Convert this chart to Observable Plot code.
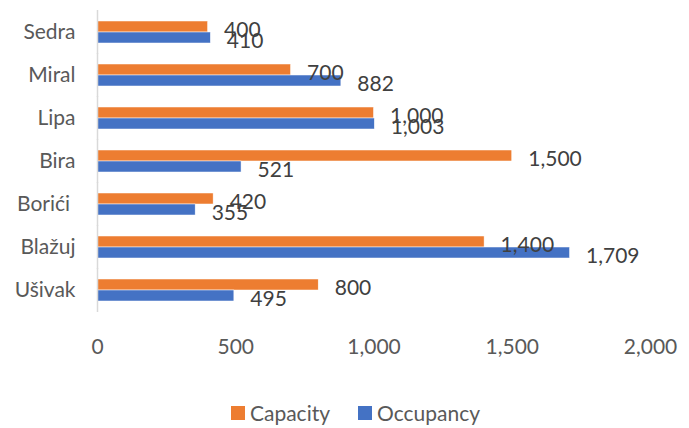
<!DOCTYPE html>
<html>
<head>
<meta charset="utf-8">
<script src="https://cdn.jsdelivr.net/npm/d3@7"></script>
<script src="https://cdn.jsdelivr.net/npm/@observablehq/plot@0.6"></script>
<style>
  body { margin: 0; background: #fff; font-family: Lato, "Open Sans", sans-serif; }
  #legend { position: absolute; top: 400px; left: 0; width: 689px; display: flex; justify-content: center; gap: 28px; font-size: 21px; color: #595959; padding-left: 22px; box-sizing: border-box; }
  #legend span.item { display: flex; align-items: center; gap: 5px; }
  #legend span.sw { width: 14px; height: 14px; display: inline-block; }
</style>
</head>
<body>
<div id="chart"></div>
<script>
const categories = ["Sedra", "Miral", "Lipa", "Bira", "Bori\u0107i\u00a0", "Bla\u017euj", "U\u0161ivak"];
const seriesNames = ["Capacity", "Occupancy"];
const capacity = [400, 700, 1000, 1500, 420, 1400, 800];
const occupancy = [410, 882, 1003, 521, 355, 1709, 495];
const xTicks = [0, 500, 1000, 1500, 2000];
const colors = ["#ED7D31", "#4472C4"];

const rows = [];
categories.forEach((c, i) => {
  rows.push({category: c, series: seriesNames[0], value: capacity[i]});
  rows.push({category: c, series: seriesNames[1], value: occupancy[i]});
});

const fmt = d3.format(",");

const chart = Plot.plot({
  width: 689,
  height: 384,
  marginLeft: 97,
  marginRight: 39,
  marginTop: 8,
  marginBottom: 70,
  style: {fontFamily: "Lato, 'Open Sans', sans-serif", fontSize: "21px", color: "#595959", background: "#fff"},
  facet: {data: rows, y: "category"},
  fy: {domain: categories, paddingInner: 0.5, paddingOuter: 0.25, label: null, axis: "left", tickSize: 0, tickPadding: 22},
  y: {domain: seriesNames, axis: null, paddingInner: 0, paddingOuter: 0},
  x: {domain: [0, 2000], ticks: xTicks, tickFormat: fmt, tickSize: 0, tickPadding: 38, label: null},
  color: {domain: seriesNames, range: colors},
  marks: [
    Plot.barX(rows, {x: "value", y: "series", fill: "series", stroke: "#fff", strokeWidth: 0.5}),
    Plot.text(rows, {x: "value", y: "series", text: d => fmt(d.value), textAnchor: "start", dx: 16, dy: 3, fill: "#404040", fontSize: 21}),
    Plot.ruleX([0], {stroke: "#d9d9d9", strokeWidth: 1.5, insetTop: -11, insetBottom: -11})
  ]
});
document.getElementById("chart").appendChild(chart);

const legend = document.createElement("div");
legend.id = "legend";
seriesNames.forEach((s, i) => {
  const item = document.createElement("span");
  item.className = "item";
  const sw = document.createElement("span");
  sw.className = "sw";
  sw.style.background = colors[i];
  item.appendChild(sw);
  item.appendChild(document.createTextNode(s));
  legend.appendChild(item);
});
document.body.appendChild(legend);
</script>
</body>
</html>
